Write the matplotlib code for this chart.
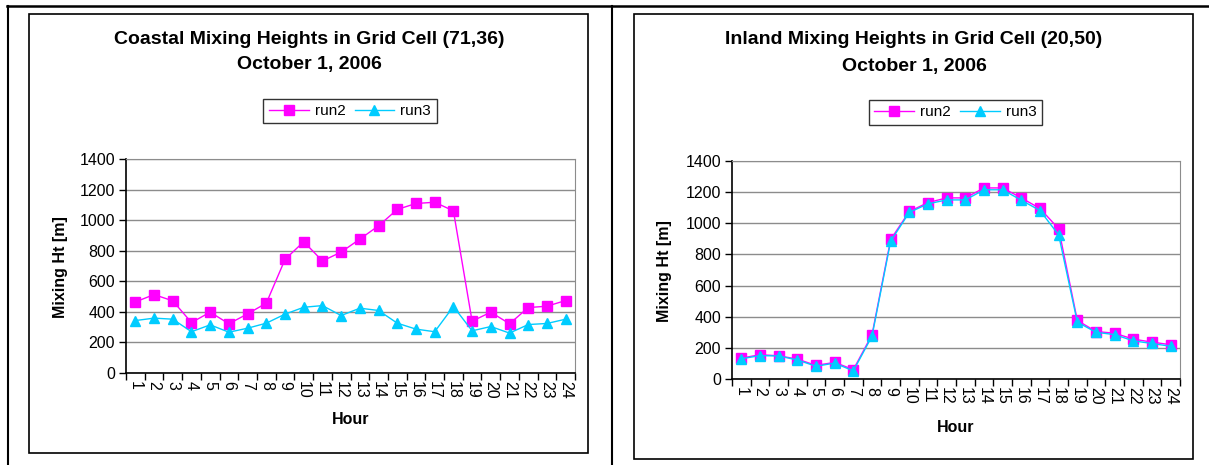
import matplotlib
matplotlib.use("Agg")
import matplotlib.pyplot as plt
from matplotlib.lines import Line2D
from matplotlib.patches import Rectangle

plt.rcParams["font.family"] = ["Liberation Sans", "DejaVu Sans"]

hours = list(range(1, 25))
hour_labels = [str(h) for h in hours]

coastal_run2 = [465, 513, 472, 330, 398, 322, 387, 457, 743, 859, 733, 791,
                876, 963, 1070, 1109, 1117, 1061, 339, 398, 322, 428, 437, 474]
coastal_run3 = [343, 359, 352, 270, 315, 267, 293, 326, 385, 430, 441, 376,
                424, 409, 326, 287, 270, 435, 276, 304, 261, 317, 324, 352]

inland_run2 = [134, 156, 149, 128, 87, 107, 60, 284, 896, 1076, 1133, 1163,
               1163, 1227, 1227, 1163, 1095, 965, 376, 305, 294, 256, 237, 220]
inland_run3 = [130, 150, 148, 122, 82, 102, 52, 275, 885, 1070, 1125, 1150,
               1150, 1215, 1215, 1148, 1082, 925, 365, 300, 285, 245, 228, 210]

titles = ["Coastal Mixing Heights in Grid Cell (71,36)",
          "Inland Mixing Heights in Grid Cell (20,50)"]
subtitle = "October 1, 2006"
y_ticks = [0, 200, 400, 600, 800, 1000, 1200, 1400]

W, H = 1209, 465
fig = plt.figure(figsize=(W / 100, H / 100), dpi=100)


def fx(px):
    return px / W


def fy(py):
    return 1 - py / H


def panel(ax_box, frame_box, title, run2, run3, title_x, title_ys, leg_box, ylab_x, ylab_y, hour_y):
    x0, y0, x1, y1 = frame_box
    fig.add_artist(Rectangle((fx(x0), fy(y1)), fx(x1 - x0), (y1 - y0) / H,
                             transform=fig.transFigure, fill=False,
                             edgecolor="black", linewidth=1.2))
    fig.text(fx(title_x), fy(title_ys[0]), title, ha="center", va="center",
             fontsize=14, fontweight="bold")
    fig.text(fx(title_x), fy(title_ys[1]), subtitle, ha="center", va="center",
             fontsize=14, fontweight="bold")

    l, t, r, b = ax_box
    ax = fig.add_axes([fx(l), fy(b), fx(r - l), (b - t) / H])
    ax.plot(hours, run2, color="#FF00FF", marker="s", markersize=6.5,
            linewidth=1.0, label="run2", zorder=3)
    ax.plot(hours, run3, color="#00CCFF", marker="^", markersize=7.5,
            linewidth=1.0, label="run3", zorder=4)
    ax.set_xlim(0.5, 24.5)
    ax.set_ylim(0, 1400)
    ax.set_yticks(y_ticks)
    ax.set_xticks(hours)
    ax.set_xticklabels(hour_labels, rotation=270)
    ax.set_xticks([h + 0.5 for h in range(0, 25)], minor=True)
    ax.tick_params(axis="x", which="major", length=0, labelsize=11.5, pad=6)
    ax.tick_params(axis="x", which="minor", length=5, width=1, direction="out")
    ax.tick_params(axis="y", length=5, width=1, labelsize=11.5, pad=3)
    for lab in ax.get_xticklabels():
        lab.set_va("top")
    ax.grid(axis="y", color="#8c8c8c", linewidth=1)
    ax.set_axisbelow(True)
    for side in ("top", "right"):
        ax.spines[side].set_color("#8c8c8c")
    for side in ("left", "bottom"):
        ax.spines[side].set_linewidth(1.2)

    fig.text(fx(ylab_x), fy(ylab_y), "Mixing Ht [m]", rotation=90, ha="center",
             va="center", fontsize=11.5, fontweight="bold")
    fig.text(fx((l + r) / 2), fy(hour_y), "Hour", ha="center", va="center",
             fontsize=11.5, fontweight="bold")

    lx0, ly0, lx1, ly1 = leg_box
    leg = ax.legend(loc="center", bbox_to_anchor=(fx((lx0 + lx1) / 2), fy((ly0 + ly1) / 2)),
                    bbox_transform=fig.transFigure, ncol=2, fontsize=11,
                    frameon=True, fancybox=False, edgecolor="black",
                    handlelength=2.6, handletextpad=0.4, columnspacing=0.6,
                    borderpad=0.35, borderaxespad=0)
    leg.get_frame().set_linewidth(1.0)
    return ax


panel((126, 159, 575, 373), (29, 14, 588, 453), titles[0], coastal_run2, coastal_run3,
      309, (40, 65), (263, 96, 437, 126), 60, 267, 419)
panel((732, 161, 1180, 379), (634, 14, 1193, 459), titles[1], inland_run2, inland_run3,
      914, (40, 66), (867, 97, 1044, 128), 665, 271, 427)

# table rules
fig.add_artist(Line2D([fx(7), 1], [fy(6), fy(6)], transform=fig.transFigure,
                      color="black", linewidth=1.8))
fig.add_artist(Line2D([fx(7.5), fx(7.5)], [fy(6), 0], transform=fig.transFigure,
                      color="black", linewidth=1.5))
fig.add_artist(Line2D([fx(612), fx(612)], [fy(6), 0], transform=fig.transFigure,
                      color="black", linewidth=1.5))

fig.savefig("out.png", dpi=100)
